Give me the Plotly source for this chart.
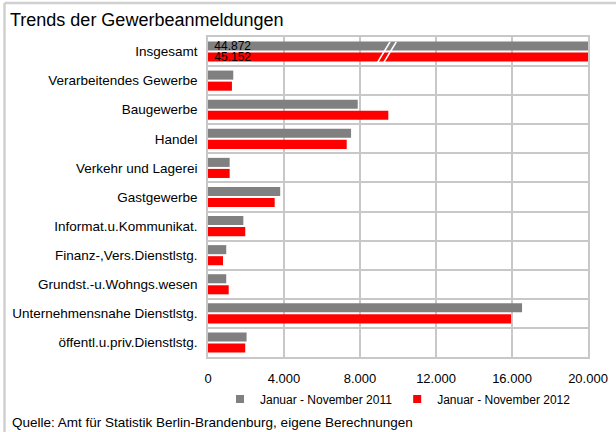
import plotly.graph_objects as go

# Gewerbeanmeldungen nach Wirtschaftsbereichen, Januar - November
categories = [
    "Insgesamt",
    "Verarbeitendes Gewerbe",
    "Baugewerbe",
    "Handel",
    "Verkehr und Lagerei",
    "Gastgewerbe",
    "Informat.u.Kommunikat.",
    "Finanz-,Vers.Dienstlstg.",
    "Grundst.-u.Wohngs.wesen",
    "Unternehmensnahe Dienstlstg.",
    "öffentl.u.priv.Dienstlstg.",
]
values_2011 = [44872, 1330, 7880, 7530, 1140, 3800, 1860, 960, 960, 16530, 2030]
values_2012 = [45152, 1260, 9490, 7300, 1140, 3510, 1960, 790, 1090, 15950, 1960]
series_names = ["Januar - November 2011", "Januar - November 2012"]
x_ticks = [0, 4000, 8000, 12000, 16000, 20000]

W, H = 616, 432
M_L, M_R, M_T, M_B = 208, 28, 37, 75
FONT = "Liberation Sans, Arial, sans-serif"
GRID = "#c8c8c8"
COLORS = ["#808080", "#ff0000"]


def total_label(values):
    # only the overall total gets a value label (its bar runs past the axis)
    return [" " + f"{v:,}".replace(",", ".") if i == 0 else "" for i, v in enumerate(values)]


fig = go.Figure()
for name, vals, color in zip(series_names, [values_2011, values_2012], COLORS):
    fig.add_trace(
        go.Bar(
            y=categories,
            x=vals,
            name=name,
            orientation="h",
            marker=dict(color=color, line=dict(width=0)),
            text=total_label(vals),
            textposition="inside",
            insidetextanchor="start",
            constraintext="none",
            textangle=0,
            insidetextfont=dict(color="#000000", size=12, family=FONT),
            cliponaxis=True,
            showlegend=False,
            hoverinfo="x+y",
        )
    )

# small square legend keys
for name, color in zip(series_names, COLORS):
    fig.add_trace(
        go.Scatter(
            x=[None], y=[None], mode="markers", name=name,
            marker=dict(symbol="square", size=8, color=color),
            showlegend=True,
        )
    )

# axis break marks across the clipped total bars
plot_w = W - M_L - M_R
plot_h = H - M_T - M_B
for dx in (0, 330):
    fig.add_shape(
        type="line", xref="x", yref="y",
        x0=8900 + dx, x1=9580 + dx, y0=0.40, y1=-0.33,
        line=dict(color="white", width=1.6),
    )

# outer frame (top and left edges)
left_px, top_px = 4.5, 3
fig.add_shape(
    type="line", xref="paper", yref="paper",
    x0=(left_px - M_L) / plot_w, x1=(W - M_L) / plot_w,
    y0=(H - M_B - top_px) / plot_h, y1=(H - M_B - top_px) / plot_h,
    line=dict(color="#d0d0d0", width=2.5),
)
fig.add_shape(
    type="line", xref="paper", yref="paper",
    x0=(left_px - M_L) / plot_w, x1=(left_px - M_L) / plot_w,
    y0=-M_B / plot_h, y1=(H - M_B - top_px) / plot_h,
    line=dict(color="#d0d0d0", width=2.5),
)

fig.update_layout(
    width=W,
    height=H,
    margin=dict(l=M_L, r=M_R, t=M_T, b=M_B, autoexpand=False),
    paper_bgcolor="white",
    plot_bgcolor="white",
    separators=",.",
    font=dict(family=FONT, size=13, color="#000000"),
    barmode="group",
    bargap=0.24,
    bargroupgap=0.18,
    title=dict(
        text="Trends der Gewerbeanmeldungen",
        x=10 / W, xanchor="left",
        y=1 - 20 / H, yanchor="middle",
        font=dict(size=18, family=FONT, color="#000000"),
    ),
    xaxis=dict(
        range=[0, 20000],
        tickvals=x_ticks,
        tickformat=",d",
        showgrid=True,
        gridcolor=GRID,
        gridwidth=1.5,
        zeroline=False,
        showline=True,
        linecolor=GRID,
        linewidth=1.5,
        mirror=True,
        ticks="",
        ticklabelstandoff=9,
        tickfont=dict(size=13),
        fixedrange=True,
    ),
    yaxis=dict(
        type="category",
        autorange="reversed",
        tickson="boundaries",
        showgrid=True,
        gridcolor=GRID,
        gridwidth=1.5,
        showline=True,
        linecolor=GRID,
        linewidth=1.5,
        mirror=True,
        ticks="",
        ticklabelstandoff=6,
        tickfont=dict(size=13.5),
        fixedrange=True,
    ),
    legend=dict(
        orientation="h",
        x=0.5, xanchor="center",
        y=-(399 - (H - M_B)) / plot_h, yanchor="middle",
        font=dict(size=12),
        itemwidth=30,
        tracegroupgap=0,
        bgcolor="rgba(0,0,0,0)",
    ),
    annotations=[
        dict(
            text="Quelle: Amt für Statistik Berlin-Brandenburg, eigene Berechnungen",
            xref="paper", yref="paper",
            x=(10 - M_L) / plot_w, xanchor="left",
            y=-(422 - (H - M_B)) / plot_h, yanchor="middle",
            showarrow=False,
            font=dict(size=13.5, family=FONT),
        )
    ],
    showlegend=True,
)

fig.write_html("out.html")
